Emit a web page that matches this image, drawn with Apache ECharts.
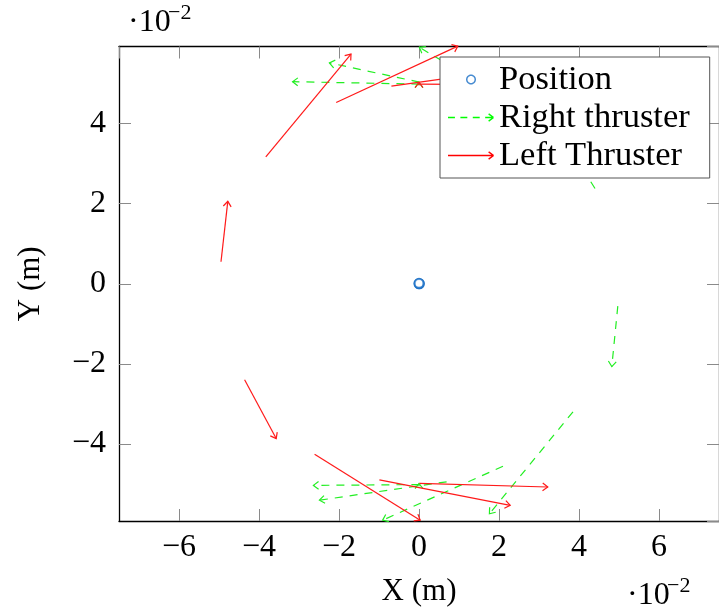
<!DOCTYPE html>
<html><head><meta charset="utf-8">
<script src="https://cdn.jsdelivr.net/npm/echarts@6/dist/echarts.min.js"></script>
<style>html,body{margin:0;padding:0;background:#fff}#c{width:719px;height:612px}</style>
</head><body><div id="c"></div>
<script>
// values in units of 1e-2 m
const positions = [[0, 0], [0.01, 0], [0, 0.01]];
// [x0, y0, x1, y1]
const rightThruster = [
  [0.01, 4.99, -3.16, 5.05],
  [0.01, 5.04, -2.24, 5.52],
  [1.20, 5.20, 0.01, 5.91],
  [4.40, 2.38, 3.81, 3.33],
  [4.97, -0.56, 4.82, -2.07],
  [3.85, -3.20, 1.76, -5.75],
  [2.10, -4.56, -0.91, -5.91],
  [0.01, -5.02, -2.64, -5.04],
  [0.69, -4.95, -2.49, -5.41],
  [0.00, -5.06, 0.00, -4.99],
  [0.00, 4.96, 0.00, 5.03]
];
const leftThruster = [
  [-3.83, 3.17, -1.70, 5.74],
  [-2.07, 4.53, 0.97, 5.94],
  [-0.69, 4.94, 1.80, 5.29],
  [0.01, 4.99, 3.00, 4.97],
  [-4.95, 0.55, -4.78, 2.06],
  [-4.36, -2.40, -3.57, -3.87],
  [-2.61, -4.26, 0.03, -5.91],
  [-0.99, -4.90, 2.28, -5.54],
  [0.01, -4.99, 3.22, -5.08],
  [0.00, 4.96, 0.00, 5.03]
];
const seriesNames = ['Position', 'Right thruster', 'Left Thruster'];
const xName = 'X (m)', yName = 'Y (m)';

const FONT = '"Liberation Serif", "Times New Roman", serif';
const fmt = v => (v < 0 ? '\u2212' + Math.abs(v) : String(v));

function arrowRenderer(color, dash) {
  return function (params, api) {
    const p0 = api.coord([api.value(0), api.value(1)]);
    const p1 = api.coord([api.value(2), api.value(3)]);
    const ang = Math.atan2(p1[1] - p0[1], p1[0] - p0[0]);
    const L = 6.5, a = 0.65;
    const h1 = [p1[0] - L * Math.cos(ang - a), p1[1] - L * Math.sin(ang - a)];
    const h2 = [p1[0] - L * Math.cos(ang + a), p1[1] - L * Math.sin(ang + a)];
    return {
      type: 'group', children: [
        { type: 'line', shape: { x1: p0[0], y1: p0[1], x2: p1[0], y2: p1[1] },
          style: { stroke: color, lineWidth: 1.2, lineDash: dash, fill: null } },
        { type: 'polyline', shape: { points: [h1, p1, h2] },
          style: { stroke: color, lineWidth: 1.2, fill: null } }
      ]
    };
  };
}

// legend icon geometry (46 x 12 box)
const f = n => n.toFixed(2);
function quad(xa, ya, xb, yb, w) {
  const dx = xb - xa, dy = yb - ya, len = Math.hypot(dx, dy);
  const nx = -dy / len * w / 2, ny = dx / len * w / 2;
  return `M${f(xa + nx)} ${f(ya + ny)}L${f(xb + nx)} ${f(yb + ny)}L${f(xb - nx)} ${f(yb - ny)}L${f(xa - nx)} ${f(ya - ny)}Z`;
}
function ring(cx, cy, r1, r2) {
  let s = ''; const n = 36;
  for (let i = 0; i <= n; i++) { const t = 2 * Math.PI * i / n; s += (i ? 'L' : 'M') + f(cx + r1 * Math.cos(t)) + ' ' + f(cy + r1 * Math.sin(t)); }
  s += 'Z';
  for (let i = 0; i <= n; i++) { const t = -2 * Math.PI * i / n; s += (i ? 'L' : 'M') + f(cx + r2 * Math.cos(t)) + ' ' + f(cy + r2 * Math.sin(t)); }
  return s + 'Z';
}
const corners = 'M0 0L0.01 0L0.01 0.01ZM46 12L45.99 12L45.99 11.99Z';
const head = quad(46, 6, 41, 2.3, 1.4) + quad(46, 6, 41, 9.7, 1.4);
const iconPos = 'path://' + corners + ring(23, 6, 5, 3.5);
const iconRight = 'path://' + corners + quad(0, 6, 7, 6, 1.5) + quad(12.5, 6, 19.5, 6, 1.5) +
  quad(25, 6, 32, 6, 1.5) + quad(37.5, 6, 45.5, 6, 1.5) + head;
const iconLeft = 'path://' + corners + quad(0, 6, 45.5, 6, 1.4) + head;

const axisCommon = {
  type: 'value',
  axisLine: { show: true, onZero: false, lineStyle: { color: '#000', width: 1.3 } },
  axisTick: { show: true, inside: true, length: 12, lineStyle: { color: '#8a8a8a', width: 1 } },
  splitLine: { show: false },
  minorTick: { show: false }
};
const labelCommon = { showMinLabel: false, showMaxLabel: false, fontSize: 32, fontFamily: FONT, color: '#000', formatter: fmt };

const chart = echarts.init(document.getElementById('c'), null, { renderer: 'canvas' });
chart.setOption({
  animation: false,
  backgroundColor: '#fff',
  grid: { left: 119, right: 0, top: 46.5, bottom: 91, containLabel: false },
  xAxis: [
    Object.assign({}, axisCommon, { min: -7.5, max: 7.5, splitNumber: 7, position: 'bottom',
      axisLabel: Object.assign({}, labelCommon, { margin: 11 }),
      name: xName, nameLocation: 'middle', nameGap: 55,
      nameTextStyle: { fontSize: 31, fontFamily: FONT, color: '#000' } }),
    Object.assign({}, axisCommon, { min: -7.5, max: 7.5, splitNumber: 7, position: 'top', axisLabel: { show: false } })
  ],
  yAxis: [
    Object.assign({}, axisCommon, { min: -5.93, max: 5.93, splitNumber: 5, position: 'left',
      axisLabel: Object.assign({}, labelCommon, { margin: 13 }),
      name: yName, nameLocation: 'middle', nameGap: 73, nameRotate: 90,
      nameTextStyle: { fontSize: 31, fontFamily: FONT, color: '#000' } }),
    Object.assign({}, axisCommon, { min: -5.93, max: 5.93, splitNumber: 5, position: 'right', axisLabel: { show: false } })
  ],
  legend: {
    show: true, orient: 'vertical', left: 440, top: 57,
    padding: [5, 20, 5, 8], itemGap: 3, itemWidth: 46, itemHeight: 12,
    backgroundColor: '#fff', borderColor: '#555', borderWidth: 1, borderRadius: 0,
    selectedMode: false, z: 10,
    itemStyle: { borderWidth: 0 },
    textStyle: { fontSize: 34.5, fontFamily: FONT, color: '#000', lineHeight: 33 },
    data: [
      { name: seriesNames[0], icon: iconPos },
      { name: seriesNames[1], icon: iconRight },
      { name: seriesNames[2], icon: iconLeft }
    ]
  },
  graphic: [
    { type: 'text', left: 128, top: 7, style: { text: '\u00b710', font: '32px ' + FONT, fill: '#000' } },
    { type: 'text', left: 168, top: 2, style: { text: '\u22122', font: '22px ' + FONT, fill: '#000' } },
    { type: 'text', left: 627, top: 580, style: { text: '\u00b710', font: '32px ' + FONT, fill: '#000' } },
    { type: 'text', left: 667, top: 575, style: { text: '\u22122', font: '22px ' + FONT, fill: '#000' } }
  ],
  series: [
    { name: seriesNames[0], type: 'scatter', data: positions, symbol: 'emptyCircle', symbolSize: 9,
      itemStyle: { color: '#1a6fc6', borderWidth: 2 }, z: 3 },
    { name: seriesNames[1], type: 'custom', data: rightThruster, clip: false,
      encode: { x: [0, 2], y: [1, 3] },
      itemStyle: { color: '#00ff00' }, renderItem: arrowRenderer('#22ee22', [8, 7]), z: 2 },
    { name: seriesNames[2], type: 'custom', data: leftThruster, clip: false,
      encode: { x: [0, 2], y: [1, 3] },
      itemStyle: { color: '#ff0000' }, renderItem: arrowRenderer('#ff1a1a', null), z: 2 }
  ]
});
</script></body></html>
